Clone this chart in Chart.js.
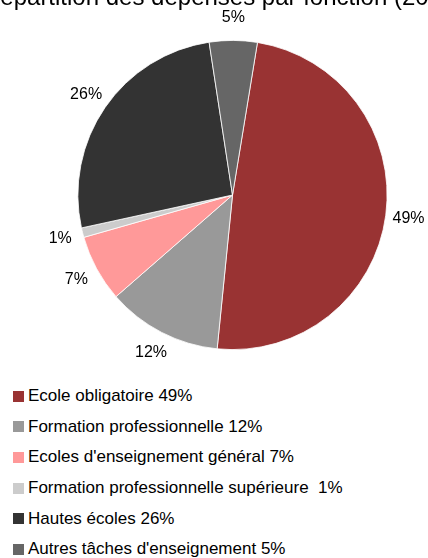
<!DOCTYPE html>
<html lang="fr">
<head>
<meta charset="utf-8">
<title>Répartition des dépenses par fonction</title>
<script src="https://cdn.jsdelivr.net/npm/chart.js@4.4.1/dist/chart.umd.min.js"></script>
<style>
  html, body {
    margin: 0;
    padding: 0;
    background: #fff;
    width: 428px;
    height: 558px;
    overflow: hidden;
    font-family: "Liberation Sans", Arial, sans-serif;
  }
  #chartBox {
    position: absolute;
    left: 0;
    top: 0;
    width: 428px;
    height: 375px;
  }
  #legend {
    position: absolute;
    left: 13px;
    top: 381px;
    margin: 0;
    padding: 0;
    list-style: none;
  }
  #legend li {
    height: 30.6px;
    display: flex;
    align-items: center;
    font-size: 17px;
    color: #000;
    white-space: pre;
  }
  #legend li span.box {
    display: inline-block;
    width: 11px;
    height: 11px;
    margin-right: 4px;
  }
</style>
</head>
<body>
<div id="chartBox"><canvas id="myPieChart"></canvas></div>
<ul id="legend"></ul>

<script>
// Categories and shares (%) of spending by function
const categories = [
  "Ecole obligatoire",
  "Formation professionnelle",
  "Ecoles d'enseignement général",
  "Formation professionnelle supérieure ",
  "Hautes écoles",
  "Autres tâches d'enseignement",
];
const shares = [49, 12, 7, 1, 26, 5];
const sliceColors = ["#993333", "#999999", "#FF9999", "#CCCCCC", "#333333", "#666666"];

const titleText = "Répartition des dépenses par fonction (2018)";
const fontFamily = "'Liberation Sans', Arial, sans-serif";

// Title drawn at the very top of the canvas (runs off the top edge)
const topTitle = {
  id: "topTitle",
  afterDraw: (chart) => {
    const ctx = chart.ctx;
    ctx.save();
    ctx.font = `24px ${fontFamily}`;
    ctx.fillStyle = "#000";
    ctx.textAlign = "left";
    ctx.textBaseline = "alphabetic";
    ctx.fillText(titleText, -17, 5);
    ctx.restore();
  },
};

// Percentage labels placed just outside each slice
const outsideLabels = {
  id: "outsideLabels",
  afterDatasetsDraw: (chart) => {
    const ctx = chart.ctx;
    const meta = chart.getDatasetMeta(0);
    ctx.save();
    ctx.font = `16px ${fontFamily}`;
    ctx.fillStyle = "#000";
    ctx.textAlign = "center";
    ctx.textBaseline = "middle";
    meta.data.forEach((arc, i) => {
      const { x, y, startAngle, endAngle, outerRadius } = arc.getProps(
        ["x", "y", "startAngle", "endAngle", "outerRadius"],
        true
      );
      const mid = (startAngle + endAngle) / 2;
      const r = outerRadius + 23;
      ctx.fillText(`${shares[i]}%`, x + Math.cos(mid) * r, y + Math.sin(mid) * r);
    });
    ctx.restore();
  },
};

const chart = new Chart(document.querySelector("#myPieChart"), {
  type: "pie",
  data: {
    labels: categories,
    datasets: [
      {
        data: shares,
        backgroundColor: sliceColors,
        borderColor: "#ffffff",
        borderWidth: 0.8,
      },
    ],
  },
  options: {
    responsive: true,
    maintainAspectRatio: false,
    animation: false,
    rotation: 9.3, // first slice starts just right of 12 o'clock
    layout: {
      padding: { left: 77.5, right: 40.5, top: 40, bottom: 25 },
    },
    plugins: {
      legend: { display: false },
      tooltip: { enabled: false },
    },
  },
  plugins: [topTitle, outsideLabels],
});

// Legend list built from the chart's own labels and colours
const legendList = document.querySelector("#legend");
categories.forEach((name, i) => {
  const li = document.createElement("li");
  const box = document.createElement("span");
  box.className = "box";
  box.style.background = sliceColors[i];
  li.appendChild(box);
  li.appendChild(document.createTextNode(`${name} ${shares[i]}%`));
  legendList.appendChild(li);
});
</script>
</body>
</html>
